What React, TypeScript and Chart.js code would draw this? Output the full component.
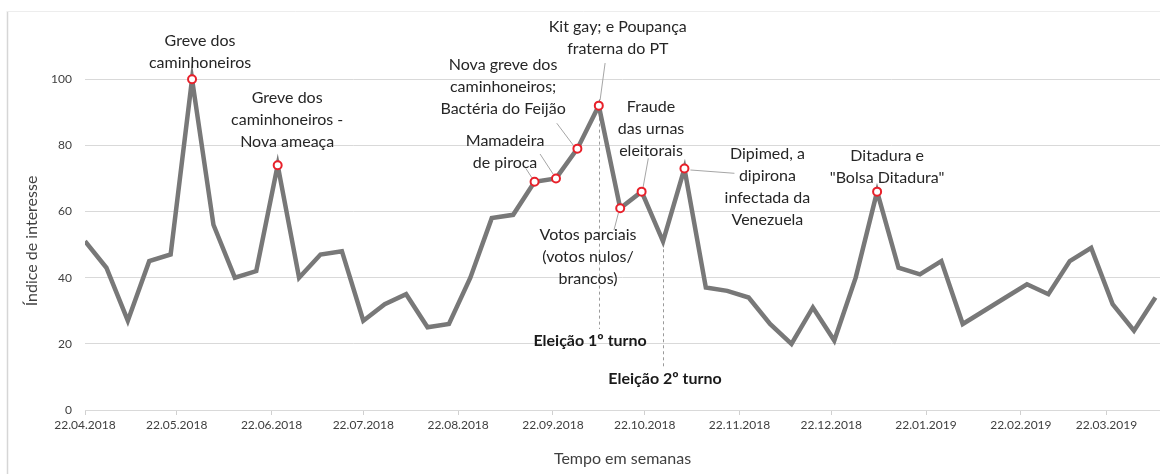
import React, { useEffect, useRef } from "react";
import { Chart, registerables } from "chart.js";
Chart.register(...registerables);

// ---- data ----
const weekStart = "22.04.2018";
const interestValues = [
  51, 43, 27, 45, 47, 100, 56, 40, 42, 74, 40, 47, 48, 27, 32, 35, 25, 26, 40, 58,
  59, 69, 70, 79, 92, 61, 66, 51, 73, 37, 36, 34, 26, 20, 31, 21, 40, 66, 43, 41,
  45, 26, 30, 34, 38, 35, 45, 49, 32, 24, 34,
];
const tickLabels = [
  "22.04.2018", "22.05.2018", "22.06.2018", "22.07.2018", "22.08.2018", "22.09.2018",
  "22.10.2018", "22.11.2018", "22.12.2018", "22.01.2019", "22.02.2019", "22.03.2019",
];
const yTicks = [0, 20, 40, 60, 80, 100];
const highlightedWeeks = [5, 9, 21, 22, 23, 24, 25, 26, 28, 37];
const annotationTexts = [
  { week: 5, lines: ["Greve dos", "caminhoneiros"] },
  { week: 9, lines: ["Greve dos", "caminhoneiros -", "Nova ameaça"] },
  { week: 24, lines: ["Kit gay; e Poupança", "fraterna do PT"] },
  { week: 23, lines: ["Nova greve dos", "caminhoneiros;", "Bactéria do Feijão"] },
  { week: 21, lines: ["Mamadeira", "de piroca"] },
  { week: 26, lines: ["Fraude", "das urnas", "eleitorais"] },
  { week: 25, lines: ["Votos parciais", "(votos nulos/", "brancos)"] },
  { week: 28, lines: ["Dipimed, a", "dipirona", "infectada da", "Venezuela"] },
  { week: 37, lines: ["Ditadura e", "\"Bolsa Ditadura\""] },
];
const electionTexts = [
  { week: 24, text: "Eleição 1º turno" },
  { week: 27, text: "Eleição 2º turno" },
];
const xTitle = "Tempo em semanas";
const yTitle = "Índice de interesse";

// ---- layout / style (pixel offsets relative to the anchored point) ----
const annotationOffsets: Record<number, [number, number]> = {
  5: [8, -38.5],
  9: [9.5, -67],
  24: [19, -78.3],
  23: [-74.3, -83.7],
  21: [-29.5, -41],
  26: [9.4, -84.4],
  25: [-32.2, 26.8],
  28: [83, -14.2],
  37: [10, -35.7],
};
const connectorOffsets: { week: number; from: [number, number]; to: [number, number] }[] = [
  { week: 24, from: [6.3, -42.6], to: [1.3, -5.6] },
  { week: 23, from: [-20.6, -25.4], to: [-3.8, -3] },
  { week: 21, from: [-8.8, -13.4], to: [-2.5, -3.7] },
  { week: 22, from: [-15.9, -24.4], to: [-2.9, -4.4] },
  { week: 26, from: [6.7, -33.4], to: [1.5, -4.5] },
  { week: 25, from: [-6.2, 21.8], to: [-1.8, 4.8] },
  { week: 28, from: [6, 1.5], to: [50, 4.8] },
];
const electionOffsets: Record<number, { dx: number; labelFromBottom: number; lineStart: number }> = {
  24: { dx: -8.7, labelFromBottom: 69, lineStart: 6 },
  27: { dx: 2, labelFromBottom: 31, lineStart: 2 },
};

const FONT = "Lato, 'Open Sans', sans-serif";
const LINE_H = 22;

const parseDay = (s: string) => {
  const [d, m, y] = s.split(".").map(Number);
  return Date.UTC(y, m - 1, d) / 86400000;
};
const day0 = parseDay(weekStart);
const tickDays = tickLabels.map((t) => parseDay(t) - day0);
const points = interestValues.map((v, i) => ({ x: i * 7, y: v }));

const annotationPlugin = {
  id: "annotations",
  beforeDraw(chart: any) {
    const ctx = chart.ctx;
    ctx.save();
    ctx.fillStyle = "#ffffff";
    ctx.fillRect(0, 0, chart.width, chart.height);
    ctx.strokeStyle = "#d6d6d6";
    ctx.lineWidth = 1.5;
    ctx.beginPath();
    ctx.moveTo(7.5, 11);
    ctx.lineTo(7.5, chart.height);
    ctx.stroke();
    ctx.strokeStyle = "#ededed";
    ctx.lineWidth = 1;
    ctx.beginPath();
    ctx.moveTo(7, 11.5);
    ctx.lineTo(chart.width, 11.5);
    ctx.stroke();
    ctx.restore();
  },
  beforeDatasetsDraw(chart: any) {
    const ctx = chart.ctx;
    const meta = chart.getDatasetMeta(0);
    const area = chart.chartArea;
    ctx.save();
    // connectors
    ctx.strokeStyle = "#a6a6a6";
    ctx.lineWidth = 1;
    connectorOffsets.forEach((c) => {
      const p = meta.data[c.week];
      ctx.beginPath();
      ctx.moveTo(p.x + c.from[0], p.y + c.from[1]);
      ctx.lineTo(p.x + c.to[0], p.y + c.to[1]);
      ctx.stroke();
    });
    // election dashed lines
    ctx.setLineDash([3, 3]);
    ctx.strokeStyle = "#9a9a9a";
    electionTexts.forEach((e) => {
      const p = meta.data[e.week];
      const o = electionOffsets[e.week];
      const x = Math.round(p.x) + 0.5;
      ctx.beginPath();
      ctx.moveTo(x, p.y + o.lineStart);
      ctx.lineTo(x, area.bottom - o.labelFromBottom - 12);
      ctx.stroke();
    });
    ctx.restore();
  },
  afterDraw(chart: any) {
    const ctx = chart.ctx;
    const meta = chart.getDatasetMeta(0);
    const area = chart.chartArea;
    ctx.save();
    ctx.textAlign = "center";
    ctx.textBaseline = "middle";
    ctx.fillStyle = "#262626";
    ctx.font = `16px ${FONT}`;
    annotationTexts.forEach((a) => {
      const p = meta.data[a.week];
      const [dx, dy] = annotationOffsets[a.week];
      a.lines.forEach((line, i) => {
        ctx.fillText(line, p.x + dx, p.y + dy + i * LINE_H);
      });
    });
    ctx.font = `bold 16px ${FONT}`;
    ctx.fillStyle = "#1a1a1a";
    electionTexts.forEach((e) => {
      const p = meta.data[e.week];
      const o = electionOffsets[e.week];
      ctx.fillText(e.text, p.x + o.dx, area.bottom - o.labelFromBottom);
    });
    // axis titles
    ctx.fillStyle = "#404040";
    ctx.font = `16px ${FONT}`;
    ctx.fillText(xTitle, (area.left + area.right) / 2, 459);
    ctx.translate(32, 241);
    ctx.rotate(-Math.PI / 2);
    ctx.fillText(yTitle, 0, 0);
    ctx.restore();
  },
};

export default function App() {
  const ref = useRef<HTMLCanvasElement>(null);
  useEffect(() => {
    document.body.style.margin = "0";
    const chart = new Chart(ref.current!, {
      type: "line",
      data: {
        datasets: [
          {
            data: points,
            borderColor: "#787878",
            borderWidth: 4.5,
            tension: 0,
            pointRadius: interestValues.map((_, i) => (highlightedWeeks.includes(i) ? 4 : 0)),
            pointBackgroundColor: "#ffffff",
            pointBorderColor: "#e8202a",
            pointBorderWidth: 2,
            borderJoinStyle: "miter",
          } as any,
        ],
      },
      options: {
        animation: false,
        responsive: false,
        events: [],
        layout: { padding: { left: 0, right: 0, top: 13, bottom: 0 } },
        plugins: { legend: { display: false }, tooltip: { enabled: false } },
        scales: {
          x: {
            type: "linear",
            min: 0,
            max: 351.5,
            afterBuildTicks: (scale: any) => {
              scale.ticks = tickDays.map((v) => ({ value: v }));
            },
            afterFit: (scale: any) => {
              scale.height = 64;
              scale.paddingLeft = 0;
              scale.paddingRight = 0;
            },
            ticks: {
              autoSkip: false,
              maxRotation: 0,
              padding: 3,
              color: "#404040",
              font: { family: FONT, size: 12 },
              callback: (v: any) => {
                const idx = tickDays.indexOf(Number(v));
                return idx >= 0 ? tickLabels[idx] : "";
              },
            },
            grid: {
              display: true,
              drawOnChartArea: false,
              drawTicks: true,
              tickLength: 5,
              color: "#d0d0d0",
            },
            border: { display: true, color: "#d9d9d9", width: 1 },
          },
          y: {
            min: 0,
            max: 120,
            afterBuildTicks: (scale: any) => {
              scale.ticks = yTicks.map((v) => ({ value: v }));
            },
            afterFit: (scale: any) => {
              scale.width = 85;
              scale.paddingTop = 0;
              scale.paddingBottom = 0;
            },
            ticks: {
              padding: 13,
              color: "#404040",
              font: { family: FONT, size: 12 },
            },
            grid: { color: "#d9d9d9", drawTicks: false, lineWidth: 1 },
            border: { display: false },
          },
        },
      },
      plugins: [annotationPlugin],
    });
    return () => chart.destroy();
  }, []);
  return (
    <div style={{ position: "absolute", left: 0, top: 0 }}>
      <canvas ref={ref} width={1160} height={474} style={{ width: 1160, height: 474 }} />
    </div>
  );
}
